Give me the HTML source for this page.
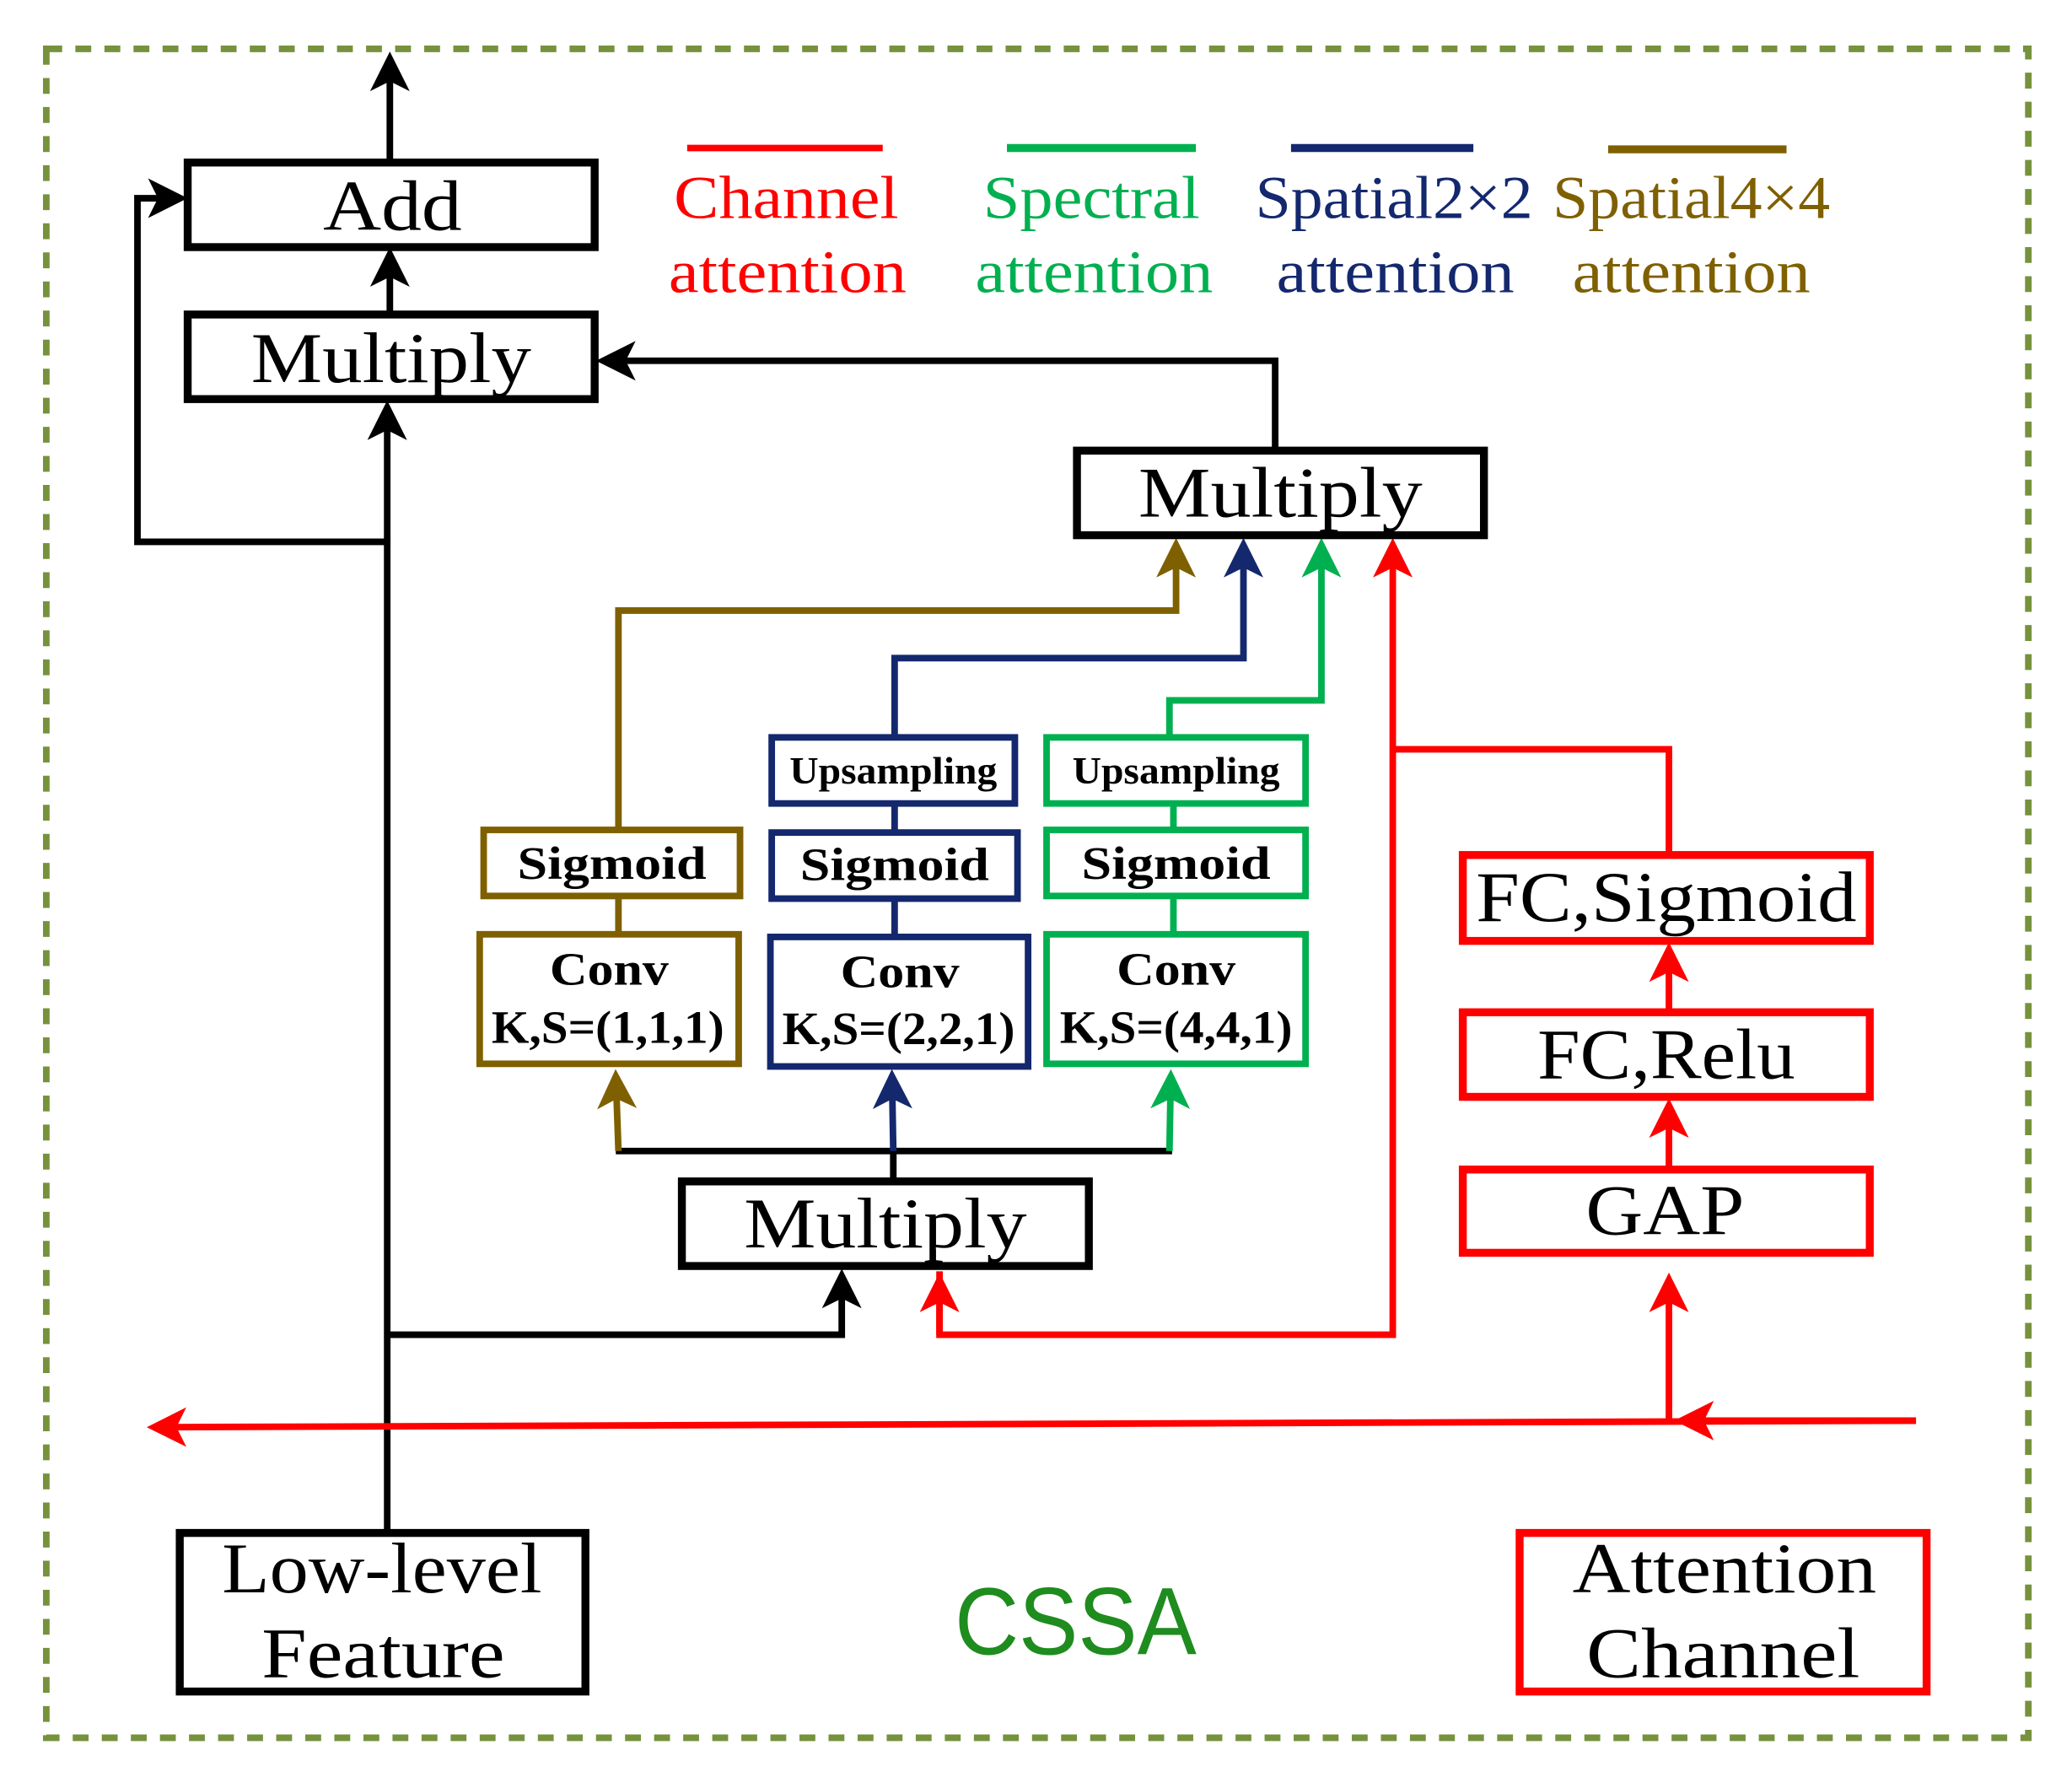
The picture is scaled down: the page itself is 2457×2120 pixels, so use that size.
<!DOCTYPE html>
<html><head><meta charset="utf-8"><style>
html,body{margin:0;padding:0;background:#fff}
svg{display:block}
text{font-family:"Liberation Serif",serif}
</style></head><body>
<svg width="2457" height="2120" viewBox="0 0 1568 1353" xmlns="http://www.w3.org/2000/svg">
<defs>
<marker id="ak" markerWidth="6" markerHeight="6" refX="5" refY="3" orient="auto" markerUnits="strokeWidth"><path d="M0,0 L6,3 L0,6 L1.5,3 z" fill="#000"/></marker>
<marker id="ar" markerWidth="6" markerHeight="6" refX="5" refY="3" orient="auto" markerUnits="strokeWidth"><path d="M0,0 L6,3 L0,6 L1.5,3 z" fill="#f00"/></marker>
<marker id="ab" markerWidth="6" markerHeight="6" refX="5" refY="3" orient="auto" markerUnits="strokeWidth"><path d="M0,0 L6,3 L0,6 L1.5,3 z" fill="#7f6000"/></marker>
<marker id="an" markerWidth="6" markerHeight="6" refX="5" refY="3" orient="auto" markerUnits="strokeWidth"><path d="M0,0 L6,3 L0,6 L1.5,3 z" fill="#14286e"/></marker>
<marker id="ag" markerWidth="6" markerHeight="6" refX="5" refY="3" orient="auto" markerUnits="strokeWidth"><path d="M0,0 L6,3 L0,6 L1.5,3 z" fill="#00b050"/></marker>
</defs>
<rect x="35" y="37" width="1500" height="1278" fill="none" stroke="#76923c" stroke-width="5" stroke-dasharray="12,10"/>

<g fill="none" stroke="#000" stroke-width="5">
<line x1="295" y1="123" x2="295" y2="44" marker-end="url(#ak)"/>
<line x1="295" y1="238" x2="295" y2="192" marker-end="url(#ak)"/>
<line x1="293" y1="1158" x2="293" y2="308" marker-end="url(#ak)"/>
<polyline points="293,410 104,410 104,150 137,150" marker-end="url(#ak)"/>
<polyline points="965,341 965,273 456,273" marker-end="url(#ak)"/>
<polyline points="293,1010 637,1010 637,965" marker-end="url(#ak)"/>
<line x1="466" y1="871" x2="887" y2="871"/>
<line x1="676" y1="894" x2="676" y2="871"/>
</g>
<g fill="none" stroke-width="5">
<line x1="468" y1="871" x2="466" y2="814" stroke="#7f6000" marker-end="url(#ab)"/>
<line x1="676" y1="871" x2="675" y2="814" stroke="#14286e" marker-end="url(#an)"/>
<line x1="885" y1="871" x2="886" y2="814" stroke="#00b050" marker-end="url(#ag)"/>
<polyline points="468,628 468,462 890,462 890,412" stroke="#7f6000" marker-end="url(#ab)"/>
<polyline points="677,558 677,498 941,498 941,412" stroke="#14286e" marker-end="url(#an)"/>
<polyline points="885,558 885,530 1000,530 1000,412" stroke="#00b050" marker-end="url(#ag)"/>
<line x1="468" y1="678" x2="468" y2="707" stroke="#7f6000"/>
<line x1="677" y1="608" x2="677" y2="630" stroke="#14286e"/>
<line x1="677" y1="680" x2="677" y2="709" stroke="#14286e"/>
<line x1="888" y1="608" x2="888" y2="628" stroke="#00b050"/>
<line x1="888" y1="678" x2="888" y2="707" stroke="#00b050"/>
</g>
<g fill="none" stroke="#f00" stroke-width="5">
<polyline points="711,962 711,1010 1054,1010 1054,412" marker-end="url(#ar)"/>
<line x1="711" y1="1010" x2="711" y2="968" marker-end="url(#ar)"/>
<polyline points="1054,567 1263,567 1263,647"/>
<line x1="1263" y1="766" x2="1263" y2="718" marker-end="url(#ar)"/>
<line x1="1263" y1="885" x2="1263" y2="836" marker-end="url(#ar)"/>
<line x1="1450" y1="1075" x2="116" y2="1080" marker-end="url(#ar)"/>
<line x1="1450" y1="1075" x2="1272" y2="1075" marker-end="url(#ar)"/>
<line x1="1263" y1="1075" x2="1263" y2="968" marker-end="url(#ar)"/>
<line x1="520" y1="112" x2="668" y2="112"/>
</g>
<line x1="762" y1="112" x2="905" y2="112" stroke="#00b050" stroke-width="6"/>
<line x1="977" y1="112" x2="1115" y2="112" stroke="#14286e" stroke-width="6"/>
<line x1="1217" y1="113" x2="1352" y2="113" stroke="#7f6000" stroke-width="6"/>

<g fill="#fff" stroke="#000" stroke-width="6">
<rect x="142" y="123" width="308" height="64"/>
<rect x="142" y="238" width="308" height="64"/>
<rect x="815" y="341" width="308" height="64"/>
<rect x="516" y="894" width="308" height="64"/>
<rect x="136" y="1160" width="307" height="120"/>
</g>
<g fill="#fff" stroke="#7f6000" stroke-width="5">
<rect x="366" y="628" width="194" height="50"/>
<rect x="363" y="707" width="196" height="98"/>
</g>
<g fill="#fff" stroke="#14286e" stroke-width="5">
<rect x="584" y="558" width="184" height="50"/>
<rect x="584" y="630" width="186" height="50"/>
<rect x="583" y="709" width="195" height="98"/>
</g>
<g fill="#fff" stroke="#00b050" stroke-width="5">
<rect x="792" y="558" width="196" height="50"/>
<rect x="792" y="628" width="196" height="50"/>
<rect x="792" y="707" width="196" height="98"/>
</g>
<g fill="#fff" stroke="#f00" stroke-width="6">
<rect x="1107" y="647" width="308" height="65"/>
<rect x="1107" y="766" width="308" height="64"/>
<rect x="1107" y="885" width="308" height="63"/>
<rect x="1150" y="1160" width="308" height="120"/>
</g>

<g font-size="54" text-anchor="middle" fill="#000" lengthAdjust="spacingAndGlyphs">
<text x="297" y="174" textLength="105" lengthAdjust="spacingAndGlyphs">Add</text>
<text x="296" y="289" textLength="212" lengthAdjust="spacingAndGlyphs">Multiply</text>
<text x="969" y="391" textLength="215" lengthAdjust="spacingAndGlyphs">Multiply</text>
<text x="670" y="944" textLength="214" lengthAdjust="spacingAndGlyphs">Multiply</text>
<text x="289" y="1205" textLength="242" lengthAdjust="spacingAndGlyphs">Low-level</text>
<text x="290" y="1269" textLength="184" lengthAdjust="spacingAndGlyphs">Feature</text>
<text x="1261" y="697" textLength="288" lengthAdjust="spacingAndGlyphs">FC,Sigmoid</text>
<text x="1261" y="816" textLength="195" lengthAdjust="spacingAndGlyphs">FC,Relu</text>
<text x="1260" y="934" textLength="120" lengthAdjust="spacingAndGlyphs">GAP</text>
<text x="1305" y="1205" textLength="230" lengthAdjust="spacingAndGlyphs">Attention</text>
<text x="1304" y="1269" textLength="207" lengthAdjust="spacingAndGlyphs">Channel</text>
</g>
<g font-size="46" text-anchor="middle">
<text x="595" y="165" fill="#f00" textLength="170" lengthAdjust="spacingAndGlyphs">Channel</text>
<text x="596" y="221" fill="#f00" textLength="180" lengthAdjust="spacingAndGlyphs">attention</text>
<text x="826" y="165" fill="#00b050" textLength="164" lengthAdjust="spacingAndGlyphs">Spectral</text>
<text x="828" y="221" fill="#00b050" textLength="180" lengthAdjust="spacingAndGlyphs">attention</text>
<text x="1055" y="165" fill="#14286e" textLength="210" lengthAdjust="spacingAndGlyphs">Spatial2×2</text>
<text x="1056" y="221" fill="#14286e" textLength="180" lengthAdjust="spacingAndGlyphs">attention</text>
<text x="1280" y="165" fill="#7f6000" textLength="210" lengthAdjust="spacingAndGlyphs">Spatial4×4</text>
<text x="1280" y="221" fill="#7f6000" textLength="180" lengthAdjust="spacingAndGlyphs">attention</text>
</g>
<g font-size="35" font-weight="bold" text-anchor="middle" fill="#000">
<text x="463" y="665" textLength="143" lengthAdjust="spacingAndGlyphs">Sigmoid</text>
<text x="677" y="666" textLength="143" lengthAdjust="spacingAndGlyphs">Sigmoid</text>
<text x="890" y="665" textLength="143" lengthAdjust="spacingAndGlyphs">Sigmoid</text>
<text x="461" y="745" textLength="90" lengthAdjust="spacingAndGlyphs">Conv</text>
<text x="460" y="789" textLength="176" lengthAdjust="spacingAndGlyphs">K,S=(1,1,1)</text>
<text x="681" y="747" textLength="90" lengthAdjust="spacingAndGlyphs">Conv</text>
<text x="680" y="790" textLength="176" lengthAdjust="spacingAndGlyphs">K,S=(2,2,1)</text>
<text x="890" y="745" textLength="90" lengthAdjust="spacingAndGlyphs">Conv</text>
<text x="890" y="789" textLength="176" lengthAdjust="spacingAndGlyphs">K,S=(4,4,1)</text>
</g>
<g font-size="29" font-weight="bold" text-anchor="middle" fill="#000">
<text x="676" y="593" textLength="157" lengthAdjust="spacingAndGlyphs">Upsampling</text>
<text x="890" y="593" textLength="157" lengthAdjust="spacingAndGlyphs">Upsampling</text>
</g>
<text x="814" y="1252" font-size="72" text-anchor="middle" fill="#1e8c1e" textLength="183" lengthAdjust="spacingAndGlyphs" style="font-family:'Liberation Sans',sans-serif">CSSA</text>
</svg>
</body></html>
